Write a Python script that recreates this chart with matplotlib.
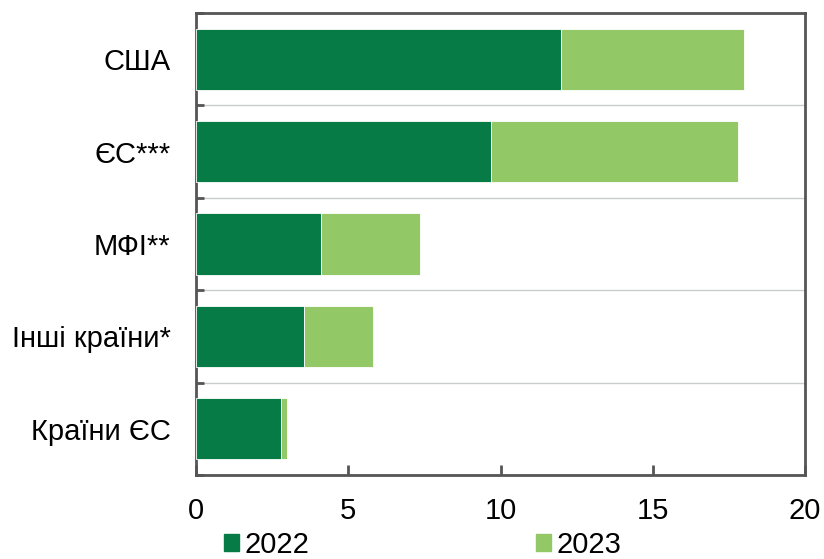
import matplotlib
matplotlib.use("Agg")
import matplotlib.pyplot as plt
from matplotlib.patches import Patch
import numpy as np

plt.rcParams['font.family'] = ['Liberation Sans', 'DejaVu Sans']

categories = ["США", "ЄС***", "МФІ**", "Інші країни*", "Країни ЄС"]
values_2022 = [12.0, 9.7, 4.1, 3.55, 2.8]
values_2023 = [6.0, 8.1, 3.25, 2.25, 0.17]
series_labels = ["2022", "2023"]

c22 = "#077B45"
c23 = "#92C866"
spine_c = "#555555"
fs = 21

fig = plt.figure(figsize=(8.24, 5.59), dpi=100)
ax = fig.add_axes([0.238, 0.150, 0.739, 0.827])

y = np.arange(len(categories))
h = 0.66
ax.barh(y, values_2022, height=h, color=c22, edgecolor='white', linewidth=0.6, zorder=3)
ax.barh(y, values_2023, left=values_2022, height=h, color=c23, edgecolor='white', linewidth=0.6, zorder=3)

ax.set_ylim(len(categories) - 0.5, -0.5)
ax.set_xlim(0, 20)
ax.set_xticks([0, 5, 10, 15, 20])
ax.set_yticks(y)
ax.set_yticklabels(categories)
ax.set_yticks(np.arange(-0.5, len(categories), 1.0), minor=True)
ax.tick_params(axis='y', which='major', length=0, pad=18.5, labelsize=fs)
ax.tick_params(axis='y', which='minor', length=6, width=2, direction='in', color=spine_c)
ax.tick_params(axis='x', which='major', length=7, width=2, direction='in', color=spine_c, pad=16, labelsize=fs)
for yy in np.arange(0.5, len(categories) - 1, 1.0):
    ax.axhline(yy, color='#C8CCCC', linewidth=1, zorder=1)
for s in ax.spines.values():
    s.set_color(spine_c)
    s.set_linewidth(2)

handles = [Patch(color=c22), Patch(color=c23)]
fig.legend(handles, series_labels, loc='lower center', bbox_to_anchor=(0.513, 0.0), ncol=2,
           frameon=False, fontsize=fs, handlelength=0.52, handleheight=0.52,
           handletextpad=0.2, columnspacing=7.75, borderpad=0, borderaxespad=0)

fig.savefig("out.png", dpi=100)
